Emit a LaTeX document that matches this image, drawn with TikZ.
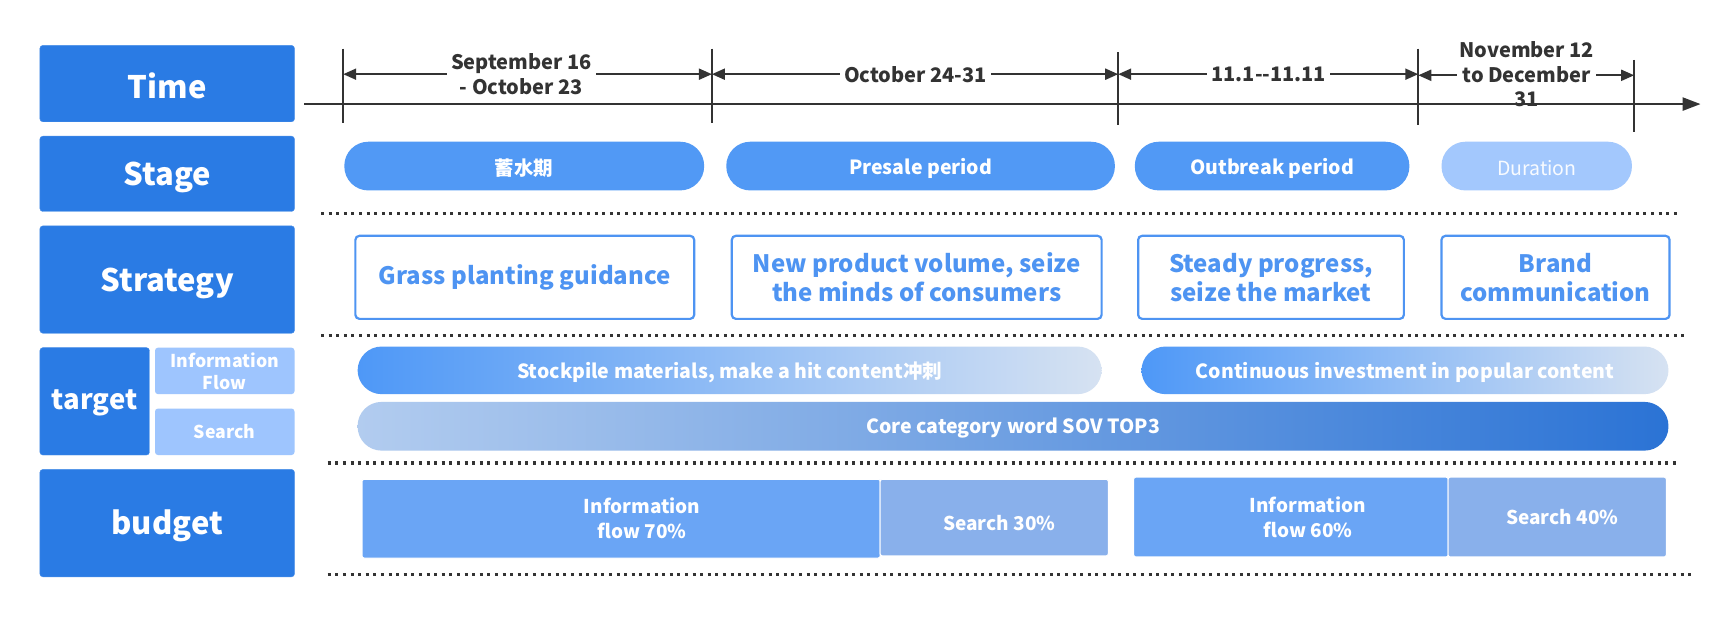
\documentclass[tikz,border=0pt]{standalone}
\usepackage{fontspec}
\setmainfont{Noto Sans CJK SC}
\usetikzlibrary{arrows.meta,fit}
\definecolor{dblue}{RGB}{42,123,228}
\definecolor{lblue}{RGB}{158,197,254}
\definecolor{pblue}{RGB}{81,153,245}
\definecolor{plight}{RGB}{163,200,253}
\definecolor{sblue}{RGB}{78,148,242}
\definecolor{gA}{RGB}{78,152,247}
\definecolor{gB}{RGB}{214,226,242}
\definecolor{cA}{RGB}{178,204,239}
\definecolor{cB}{RGB}{43,115,213}
\definecolor{bA}{RGB}{106,165,245}
\definecolor{bB}{RGB}{137,176,235}
\definecolor{ink}{RGB}{51,51,51}
\tikzset{
  lbox/.style={fill=dblue, draw=dblue!85!white, rounded corners=3pt, inner sep=0pt},
  ltext/.style={text=white, font=\bfseries\fontsize{31}{36}\selectfont},
  smallbox/.style={fill=lblue, rounded corners=3pt, inner sep=0pt},
  smalltext/.style={text=white, align=center, font=\bfseries\fontsize{17.7}{22}\selectfont},
  pill/.style={fill=pblue, rounded corners=24pt, inner sep=0pt},
  pilltext/.style={text=white, yshift=-2pt, font=\bfseries\fontsize{19.5}{23}\selectfont},
  stratbox/.style={draw=sblue, line width=2.2pt, fill=white, rounded corners=4pt, inner sep=0pt},
  strattext/.style={text=sblue, align=center, font=\bfseries\fontsize{24}{29}\selectfont},
  gpill/.style={rounded corners=24pt, inner sep=0pt},
  budbox/.style={rounded corners=2pt, inner sep=0pt, draw=white, line width=1pt},
  budtext/.style={text=white, align=center, font=\bfseries\fontsize{19}{25}\selectfont},
  dotline/.style={draw=ink, line width=3.5pt, dash pattern=on 3pt off 4.6pt},
  axisline/.style={draw=ink, line width=2.4pt},
  tickline/.style={draw=ink, line width=2pt},
  dimline/.style={draw=ink, line width=2pt, {Triangle[length=13pt,width=11pt]}-{Triangle[length=13pt,width=11pt]}},
  dimlabel/.style={fill=white, text=ink, align=center, inner sep=4pt,
    font=\bfseries\fontsize{20}{24.5}\selectfont},
}
\begin{document}
\begin{tikzpicture}[x=1.10714pt,y=-1.10714pt]
\useasboundingbox[fill=white] (0,0) rectangle (1568,557);

% ---------- left column ----------
\coordinate (a1) at (36,41);  \coordinate (a2) at (266,110);
\node[lbox, fit=(a1)(a2), label={[ltext, yshift=-2pt]center:Time}] (time) {};
\coordinate (a1) at (36,123); \coordinate (a2) at (266,191);
\node[lbox, fit=(a1)(a2), label={[ltext, yshift=-4pt]center:Stage}] (stage) {};
\coordinate (a1) at (36,204); \coordinate (a2) at (266,301);
\node[lbox, fit=(a1)(a2), label={[ltext, yshift=-4pt]center:Strategy}] (strategy) {};
\coordinate (a1) at (36,314); \coordinate (a2) at (135,411);
\node[lbox, fit=(a1)(a2), label={[ltext, font=\bfseries\fontsize{27.5}{32}\selectfont, yshift=-2pt]center:target}] (target) {};
\coordinate (a1) at (140,314); \coordinate (a2) at (266,356);
\node[smallbox, fit=(a1)(a2), label={[smalltext]center:Information\\Flow}] (infoflow) {};
\coordinate (a1) at (140,369); \coordinate (a2) at (266,411);
\node[smallbox, fit=(a1)(a2), label={[smalltext]center:Search}] (search) {};
\coordinate (a1) at (36,424); \coordinate (a2) at (266,521);
\node[lbox, fit=(a1)(a2), label={[ltext, yshift=-3pt]center:budget}] (budget) {};

% ---------- timeline ----------
\coordinate (tk1t) at (310,44);  \coordinate (tk1b) at (310,111);
\coordinate (tk2t) at (643,44);  \coordinate (tk2b) at (643,111);
\coordinate (tk3t) at (1010,47); \coordinate (tk3b) at (1010,113);
\coordinate (tk4t) at (1281,44); \coordinate (tk4b) at (1281,113);
\coordinate (tk5t) at (1476,54); \coordinate (tk5b) at (1476,119);
\draw[tickline] (tk1t) -- (tk1b);
\draw[tickline] (tk2t) -- (tk2b);
\draw[tickline] (tk3t) -- (tk3b);
\draw[tickline] (tk4t) -- (tk4b);
\draw[tickline] (tk5t) -- (tk5b);

\coordinate (d1a) at (310,67);  \coordinate (d1b) at (643,67);
\coordinate (d2a) at (643,67);  \coordinate (d2b) at (1010,67);
\coordinate (d3a) at (1010,67); \coordinate (d3b) at (1281,67);
\coordinate (d4a) at (1281,68); \coordinate (d4b) at (1476,68);
\draw[dimline] (d1a) -- (d1b);
\draw[dimline] (d2a) -- (d2b);
\draw[dimline] (d3a) -- (d3b);
\draw[dimline] (d4a) -- (d4b);
\node[dimlabel] (l1) at (471,67) {September 16\\- October 23};
\node[dimlabel] (l2) at (827,67) {October 24-31};
\node[dimlabel] (l3) at (1146,67) {11.1-{}-11.11};
\node[dimlabel, inner sep=2pt] (l4) at (1379,67) {November 12\\to December\\31};

\coordinate (ax0) at (275,94); \coordinate (ax1) at (1536,94);
\draw[axisline, -{Triangle[length=18pt,width=13pt]}] (ax0) -- (ax1);

% ---------- stage ----------
\coordinate (a1) at (311,128); \coordinate (a2) at (636,172);
\node[pill, fit=(a1)(a2), label={[pilltext]center:蓄水期}] (p1) {};
\coordinate (a1) at (656,128); \coordinate (a2) at (1007,172);
\node[pill, fit=(a1)(a2), label={[pilltext]center:Presale period}] (p2) {};
\coordinate (a1) at (1025,128); \coordinate (a2) at (1273,172);
\node[pill, fit=(a1)(a2), label={[pilltext]center:Outbreak period}] (p3) {};
\coordinate (a1) at (1302,128); \coordinate (a2) at (1474,172);
\node[pill, fit=(a1)(a2), fill=plight,
  label={[text=white!92!plight, yshift=-2pt, font=\fontsize{19.5}{23}\selectfont]center:Duration}] (p4) {};

\coordinate (dl1a) at (290,193); \coordinate (dl1b) at (1518,193);
\draw[dotline] (dl1a) -- (dl1b);

% ---------- strategy ----------
\coordinate (a1) at (321,213); \coordinate (a2) at (627,288);
\node[stratbox, fit=(a1)(a2), label={[strattext]center:Grass planting guidance}] (s1) {};
\coordinate (a1) at (661,213); \coordinate (a2) at (995,288);
\node[stratbox, fit=(a1)(a2), label={[strattext]center:New product volume, seize\\the minds of consumers}] (s2) {};
\coordinate (a1) at (1028,213); \coordinate (a2) at (1268,288);
\node[stratbox, fit=(a1)(a2), label={[strattext]center:Steady progress,\\seize the market}] (s3) {};
\coordinate (a1) at (1302,213); \coordinate (a2) at (1508,288);
\node[stratbox, fit=(a1)(a2), label={[strattext]center:Brand\\communication}] (s4) {};

\coordinate (dl2a) at (290,303); \coordinate (dl2b) at (1522,303);
\draw[dotline] (dl2a) -- (dl2b);

% ---------- target ----------
\coordinate (a1) at (323,313); \coordinate (a2) at (995,356);
\node[gpill, left color=gA, right color=gB, fit=(a1)(a2),
  label={[pilltext]center:Stockpile materials, make a hit content冲刺}] (g1) {};
\coordinate (a1) at (1031,313); \coordinate (a2) at (1507,356);
\node[gpill, left color=gA, right color=gB, fit=(a1)(a2),
  label={[pilltext]center:Continuous investment in popular content}] (g2) {};
\coordinate (a1) at (323,363); \coordinate (a2) at (1507,407);
\node[gpill, left color=cA, right color=cB, fit=(a1)(a2),
  label={[pilltext]center:Core category word SOV TOP3}] (g3) {};

\coordinate (dl3a) at (296,418); \coordinate (dl3b) at (1514,418);
\draw[dotline] (dl3a) -- (dl3b);

% ---------- budget ----------
\coordinate (a1) at (327,433); \coordinate (a2) at (795,504);
\node[budbox, fill=bA, fit=(a1)(a2),
  label={[budtext, xshift=21pt]center:Information\\flow 70\%}] (b1) {};
\coordinate (a1) at (795,433); \coordinate (a2) at (1001,502);
\node[budbox, fill=bB, fit=(a1)(a2),
  label={[budtext, xshift=5pt, yshift=-5pt]center:Search 30\%}] (b2) {};
\coordinate (a1) at (1024,431); \coordinate (a2) at (1308,503);
\node[budbox, fill=bA, fit=(a1)(a2),
  label={[budtext, xshift=17pt]center:Information\\flow 60\%}] (b3) {};
\coordinate (a1) at (1308,431); \coordinate (a2) at (1505,503);
\node[budbox, fill=bB, fit=(a1)(a2),
  label={[budtext, xshift=5pt]center:Search 40\%}] (b4) {};

\coordinate (dl4a) at (296,519); \coordinate (dl4b) at (1527,519);
\draw[dotline] (dl4a) -- (dl4b);
\end{tikzpicture}
\end{document}
